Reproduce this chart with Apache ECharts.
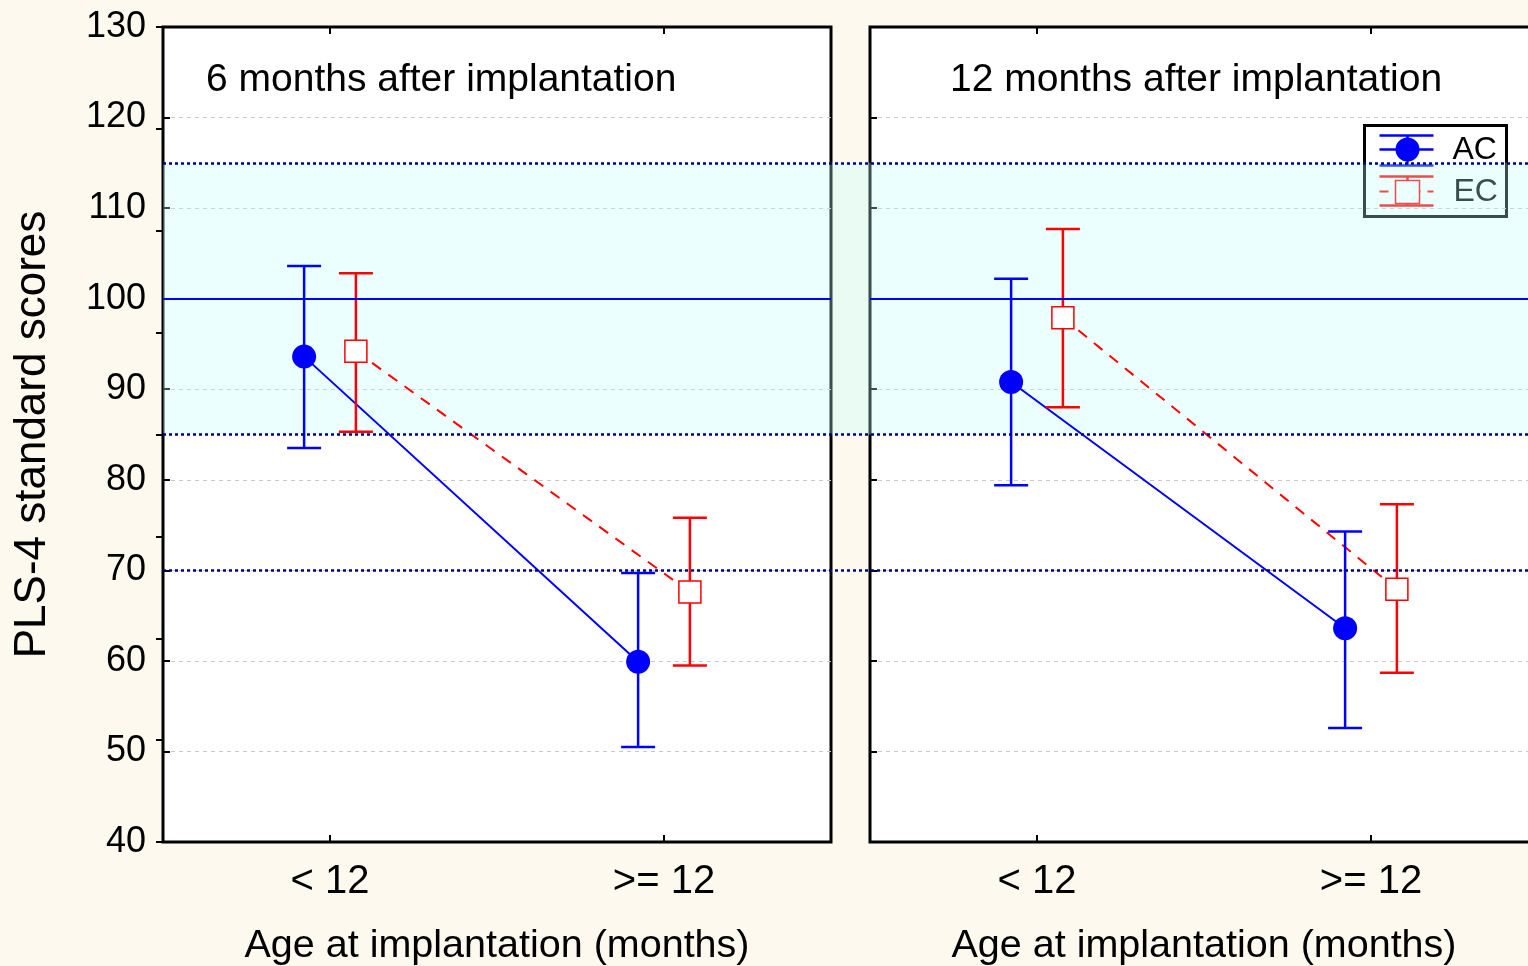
<!DOCTYPE html>
<html>
<head>
<meta charset="utf-8">
<script src="https://cdn.jsdelivr.net/npm/echarts@6/dist/echarts.min.js"></script>
<style>
  html, body { margin: 0; padding: 0; background: #fdf9ee; }
  #chart { width: 1528px; height: 966px; }
</style>
</head>
<body>
<div id="chart"></div>
<script>
// Age-at-implantation groups (x categories)
const groups = ['< 12', '>= 12'];
const yTicks = [40, 50, 60, 70, 80, 90, 100, 110, 120, 130];

// PLS-4 standard scores: means and interval bounds, 6 months after implantation
const ac6Mean = [93.6, 59.9];
const ac6Lo   = [83.5, 50.5];
const ac6Hi   = [103.6, 69.7];
const ec6Mean = [94.2, 67.6];
const ec6Lo   = [85.3, 59.5];
const ec6Hi   = [102.8, 75.8];

// 12 months after implantation
const ac12Mean = [90.8, 63.6];
const ac12Lo   = [79.4, 52.6];
const ac12Hi   = [102.2, 74.3];
const ec12Mean = [97.9, 67.9];
const ec12Lo   = [88.0, 58.7];
const ec12Hi   = [107.7, 77.3];

// Reference levels: normal range band and cut-offs
const normMean = 100;
const normBand = [85, 115];
const cutLines = [115, 85, 70];

const FONT = "'Liberation Sans', Arial, sans-serif";
const BLUE = '#0000ff';
const RED = '#ff0000';
const GROUP_POS = [1, 3];     // category centres on a 0..4 value axis
const SHIFT = 0.155;          // side offset between the two groups

function pts(means, off) {
  return means.map((m, i) => [GROUP_POS[i] + off, m]);
}
function bars(means, lo, hi, off) {
  return means.map((m, i) => [GROUP_POS[i] + off, m, lo[i], hi[i]]);
}

function errorRender(kind) {
  const color = kind === 'AC' ? BLUE : RED;
  return function (params, api) {
    const x = api.value(0);
    const pm = api.coord([x, api.value(1)]);
    const plo = api.coord([x, api.value(2)]);
    const phi = api.coord([x, api.value(3)]);
    const cap = 17;
    const ls = { stroke: color, lineWidth: 2.5 };
    const children = [
      { type: 'line', shape: { x1: pm[0], y1: phi[1], x2: pm[0], y2: plo[1] }, style: ls },
      { type: 'line', shape: { x1: pm[0] - cap, y1: phi[1], x2: pm[0] + cap, y2: phi[1] }, style: ls },
      { type: 'line', shape: { x1: pm[0] - cap, y1: plo[1], x2: pm[0] + cap, y2: plo[1] }, style: ls }
    ];
    if (kind === 'AC') {
      children.push({ type: 'circle', shape: { cx: pm[0], cy: pm[1], r: 12 }, style: { fill: BLUE } });
    } else {
      children.push({ type: 'rect', shape: { x: pm[0] - 11, y: pm[1] - 11, width: 22, height: 22 },
        style: { fill: '#ffffff', stroke: RED, lineWidth: 1.5 } });
    }
    return { type: 'group', children };
  };
}

const tickStyle = { show: true, inside: true, length: 7, lineStyle: { color: '#000', width: 2 } };
const dashGrid = {
  show: true, showMinLine: false, showMaxLine: false,
  lineStyle: { color: '#c8c8c8', width: 1, type: [4, 4] }
};

function xBottom(gridIndex) {
  return {
    type: 'value', gridIndex, min: 0, max: 4, position: 'bottom',
    axisLine: { show: false },
    axisTick: Object.assign({ customValues: GROUP_POS }, tickStyle),
    axisLabel: {
      customValues: GROUP_POS, margin: 20, fontSize: 40, color: '#000', fontFamily: FONT,
      formatter: v => groups[GROUP_POS.indexOf(v)] || ''
    },
    splitLine: dashGrid,
    name: 'Age at implantation (months)', nameLocation: 'middle', nameGap: 84,
    nameTextStyle: { fontSize: 39.5, color: '#000', fontFamily: FONT }
  };
}
function xTop(gridIndex) {
  return {
    type: 'value', gridIndex, min: 0, max: 4, position: 'top',
    axisLine: { show: false },
    axisTick: Object.assign({ customValues: GROUP_POS }, tickStyle),
    axisLabel: { show: false }, splitLine: { show: false }
  };
}
function yLeft(gridIndex, labels) {
  return {
    type: 'value', gridIndex, min: yTicks[0], max: yTicks[yTicks.length - 1], interval: 10,
    position: 'left',
    axisLine: { show: false },
    axisTick: tickStyle,
    axisLabel: { show: labels, margin: 17, fontSize: 36, color: '#000', fontFamily: FONT },
    splitLine: dashGrid,
    name: labels ? 'PLS-4 standard scores' : '', nameLocation: 'middle', nameRotate: 90, nameGap: 108,
    nameTextStyle: { fontSize: 44, color: '#000', fontFamily: FONT }
  };
}

function panelSeries(xi, yi, acM, acL, acH, ecM, ecL, ecH) {
  return [
    {
      type: 'line', xAxisIndex: xi, yAxisIndex: yi, data: pts(ecM, SHIFT), symbol: 'none', z: 2,
      lineStyle: { color: RED, width: 2, type: [11, 9] }, silent: true
    },
    {
      type: 'line', xAxisIndex: xi, yAxisIndex: yi, data: pts(acM, -SHIFT), symbol: 'none', z: 2,
      lineStyle: { color: BLUE, width: 2 }, silent: true,
      markLine: {
        silent: true, symbol: 'none', label: { show: false },
        lineStyle: { color: BLUE, width: 2, type: 'solid' },
        data: [{ yAxis: normMean }]
      }
    },
    {
      type: 'custom', xAxisIndex: xi, yAxisIndex: yi, z: 3,
      renderItem: errorRender('EC'), data: bars(ecM, ecL, ecH, SHIFT), silent: true
    },
    {
      type: 'custom', xAxisIndex: xi, yAxisIndex: yi, z: 3,
      renderItem: errorRender('AC'), data: bars(acM, acL, acH, -SHIFT), silent: true
    }
  ];
}

const panelGrid = {
  top: 27, height: 815, width: 668, show: true, outerBoundsMode: 'none', containLabel: false,
  backgroundColor: '#ffffff', borderColor: '#000', borderWidth: 3
};

const option = {
  backgroundColor: '#fdf9ee',
  animation: false,
  title: [
    { text: '6 months after implantation', left: 206, top: 61, padding: 0,
      textStyle: { fontSize: 39, fontWeight: 'normal', color: '#000', fontFamily: FONT } },
    { text: '12 months after implantation', left: 950, top: 61, padding: 0,
      textStyle: { fontSize: 39, fontWeight: 'normal', color: '#000', fontFamily: FONT } }
  ],
  grid: [
    Object.assign({ left: 163 }, panelGrid),
    Object.assign({ left: 870 }, panelGrid),
    { left: 163, top: 27, width: 1375, height: 815, show: false, outerBoundsMode: 'none' }
  ],
  xAxis: [
    xBottom(0), xTop(0), xBottom(1), xTop(1),
    { type: 'value', gridIndex: 2, min: 0, max: 1, show: false }
  ],
  yAxis: [
    yLeft(0, true),
    {
      type: 'value', gridIndex: 0, min: 0, max: 8, interval: 1, position: 'right',
      axisLine: { show: false }, axisTick: tickStyle, axisLabel: { show: false }, splitLine: { show: false }
    },
    yLeft(1, false),
    { type: 'value', gridIndex: 2, min: yTicks[0], max: yTicks[yTicks.length - 1], show: false }
  ],
  series: [
    ...panelSeries(0, 0, ac6Mean, ac6Lo, ac6Hi, ec6Mean, ec6Lo, ec6Hi),
    ...panelSeries(2, 2, ac12Mean, ac12Lo, ac12Hi, ec12Mean, ec12Lo, ec12Hi),
    {
      // normal-range band laid over both panels
      type: 'line', xAxisIndex: 4, yAxisIndex: 3, data: [], z: 10, silent: true,
      markArea: {
        silent: true,
        itemStyle: { color: 'rgba(190,255,255,0.3)' },
        data: [[{ yAxis: normBand[0] }, { yAxis: normBand[1] }]]
      }
    },
    {
      type: 'line', xAxisIndex: 4, yAxisIndex: 3, data: [], z: 11, silent: true,
      markLine: {
        silent: true, symbol: 'none', label: { show: false },
        lineStyle: { color: '#000080', width: 2.5, type: [3, 3] },
        data: cutLines.map(v => ({ yAxis: v }))
      }
    }
  ],
  graphic: [
    {
      type: 'group', left: 1363, top: 124,
      children: [
        { type: 'rect', shape: { x: 0, y: 0, width: 142, height: 91 },
          style: { fill: 'transparent', stroke: '#000', lineWidth: 3 } },
        // AC glyph
        { type: 'line', shape: { x1: 15, y1: 10, x2: 69, y2: 10 }, style: { stroke: BLUE, lineWidth: 2.5 } },
        { type: 'line', shape: { x1: 15, y1: 24, x2: 69, y2: 24 }, style: { stroke: BLUE, lineWidth: 2.5 } },
        { type: 'line', shape: { x1: 15, y1: 40, x2: 69, y2: 40 }, style: { stroke: BLUE, lineWidth: 2.5 } },
        { type: 'line', shape: { x1: 43, y1: 10, x2: 43, y2: 40 }, style: { stroke: BLUE, lineWidth: 2.5 } },
        { type: 'circle', shape: { cx: 43, cy: 24, r: 12 }, style: { fill: BLUE } },
        { type: 'text', x: 88, y: 25, style: { text: 'AC', fontSize: 32, fill: '#000', fontFamily: FONT, verticalAlign: 'middle' } },
        // EC glyph
        { type: 'line', shape: { x1: 15, y1: 51, x2: 69, y2: 51 }, style: { stroke: RED, lineWidth: 2.5 } },
        { type: 'line', shape: { x1: 15, y1: 66, x2: 69, y2: 66 }, style: { stroke: RED, lineWidth: 2, lineDash: [9, 7] } },
        { type: 'line', shape: { x1: 15, y1: 80, x2: 69, y2: 80 }, style: { stroke: RED, lineWidth: 2.5 } },
        { type: 'line', shape: { x1: 43, y1: 51, x2: 43, y2: 80 }, style: { stroke: RED, lineWidth: 2.5 } },
        { type: 'rect', shape: { x: 31, y: 55, width: 24, height: 23 }, style: { fill: '#ffffff', stroke: RED, lineWidth: 1.5 } },
        { type: 'text', x: 89, y: 67, style: { text: 'EC', fontSize: 32, fill: '#000', fontFamily: FONT, verticalAlign: 'middle' } }
      ]
    }
  ]
};

const chart = echarts.init(document.getElementById('chart'), null, { renderer: 'canvas' });
chart.setOption(option);
</script>
</body>
</html>
